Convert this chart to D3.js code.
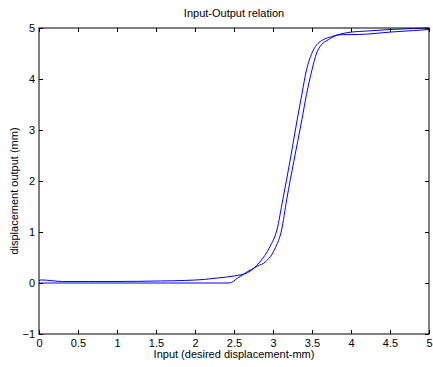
<!DOCTYPE html>
<html>
<head>
<meta charset="utf-8">
<script src="https://cdn.jsdelivr.net/npm/d3@7"></script>
<style>
  body { margin: 0; background: #fff; }
  text { font-family: Arial, "Liberation Sans", sans-serif; font-size: 11px; fill: #000; }
</style>
</head>
<body>
<div id="chart"></div>
<script>
// rising branch (input going up)
const inputUp = [0, 0.5, 1, 1.5, 2, 2.44, 2.55, 2.67, 2.8, 2.9, 3.03, 3.11, 3.175, 3.27, 3.37, 3.43, 3.5, 3.56, 3.62, 3.71, 3.83, 3.9, 4.0, 4.2, 4.5, 4.8, 5.0];
const outputUp = [0, 0, 0, 0, 0, 0, 0.1, 0.22, 0.33, 0.41, 0.69, 1.04, 1.63, 2.41, 3.2, 3.7, 4.18, 4.51, 4.67, 4.77, 4.86, 4.87, 4.87, 4.88, 4.92, 4.95, 4.97];

// falling branch (input coming back down)
const inputDown = [5.0, 4.8, 4.5, 4.2, 4.0, 3.86, 3.75, 3.62, 3.56, 3.5, 3.43, 3.37, 3.31, 3.22, 3.125, 3.05, 2.96, 2.83, 2.67, 2.51, 2.3, 2.12, 1.87, 1.56, 1.0, 0.63, 0.3, 0.03, 0];
const outputDown = [5.0, 4.99, 4.97, 4.94, 4.92, 4.88, 4.83, 4.75, 4.67, 4.51, 4.18, 3.7, 3.2, 2.41, 1.63, 1.04, 0.71, 0.41, 0.2, 0.14, 0.1, 0.07, 0.05, 0.04, 0.03, 0.03, 0.03, 0.06, 0.05];

const xTicks = [0, 0.5, 1, 1.5, 2, 2.5, 3, 3.5, 4, 4.5, 5];
const yTicks = [-1, 0, 1, 2, 3, 4, 5];

const titleText = "Input-Output relation";
const xLabelText = "Input (desired displacement-mm)";
const yLabelText = "displacement output (mm)";

document.addEventListener("DOMContentLoaded", function () {

    function drawChart() {
        const width = 433;
        const height = 367;
        const margin = { top: 28, right: 4, bottom: 33, left: 39 };
        const plotW = width - margin.left - margin.right;
        const plotH = height - margin.top - margin.bottom;

        const svg = d3.select("#chart")
            .append("svg")
            .attr("width", width)
            .attr("height", height);

        const x = d3.scaleLinear().domain([0, 5]).range([margin.left, margin.left + plotW]);
        const y = d3.scaleLinear().domain([-1, 5]).range([margin.top + plotH, margin.top]);

        // bottom and left axes, ticks pointing inwards like matlab
        svg.append("g")
            .attr("transform", `translate(0,${margin.top + plotH})`)
            .call(d3.axisBottom(x).tickValues(xTicks).tickSizeInner(-4).tickSizeOuter(0).tickPadding(5).tickFormat(d3.format("")))
            .call(g => g.select(".domain").remove());

        svg.append("g")
            .attr("transform", `translate(${margin.left},0)`)
            .call(d3.axisLeft(y).tickValues(yTicks).tickSizeInner(-4).tickSizeOuter(0).tickPadding(4).tickFormat(d3.format("")))
            .call(g => g.select(".domain").remove());

        // mirrored ticks on top and right
        svg.append("g")
            .attr("transform", `translate(0,${margin.top})`)
            .call(d3.axisTop(x).tickValues(xTicks).tickSizeInner(-4).tickSizeOuter(0).tickFormat(""))
            .call(g => g.select(".domain").remove());

        svg.append("g")
            .attr("transform", `translate(${margin.left + plotW},0)`)
            .call(d3.axisRight(y).tickValues(yTicks).tickSizeInner(-4).tickSizeOuter(0).tickFormat(""))
            .call(g => g.select(".domain").remove());

        svg.selectAll(".tick text").style("font-size", "11px").style("font-family", "Arial, 'Liberation Sans', sans-serif");

        // the two branches of the hysteresis loop
        const line = d3.line()
            .x(d => x(d[0]))
            .y(d => y(d[1]))
            .curve(d3.curveMonotoneX);

        const up = inputUp.map((v, i) => [v, outputUp[i]]);
        // monotone curve wants x ascending, so flip the falling branch
        const down = inputDown.map((v, i) => [v, outputDown[i]]).reverse();

        [up, down].forEach(branch => {
            svg.append("path")
                .datum(branch)
                .attr("fill", "none")
                .attr("stroke", "#0000ff")
                .attr("stroke-width", 1)
                .attr("d", line);
        });

        // axes box
        svg.append("rect")
            .attr("x", margin.left)
            .attr("y", margin.top)
            .attr("width", plotW)
            .attr("height", plotH)
            .attr("fill", "none")
            .attr("stroke", "#000")
            .attr("stroke-width", 1);

        svg.append("text")
            .attr("x", x(2.5))
            .attr("y", 17)
            .attr("text-anchor", "middle")
            .text(titleText);

        svg.append("text")
            .attr("x", x(2.5))
            .attr("y", 358)
            .attr("text-anchor", "middle")
            .text(xLabelText);

        svg.append("text")
            .attr("transform", "translate(18,191) rotate(-90)")
            .attr("text-anchor", "middle")
            .text(yLabelText);
    }

    drawChart();
});
</script>
</body>
</html>
